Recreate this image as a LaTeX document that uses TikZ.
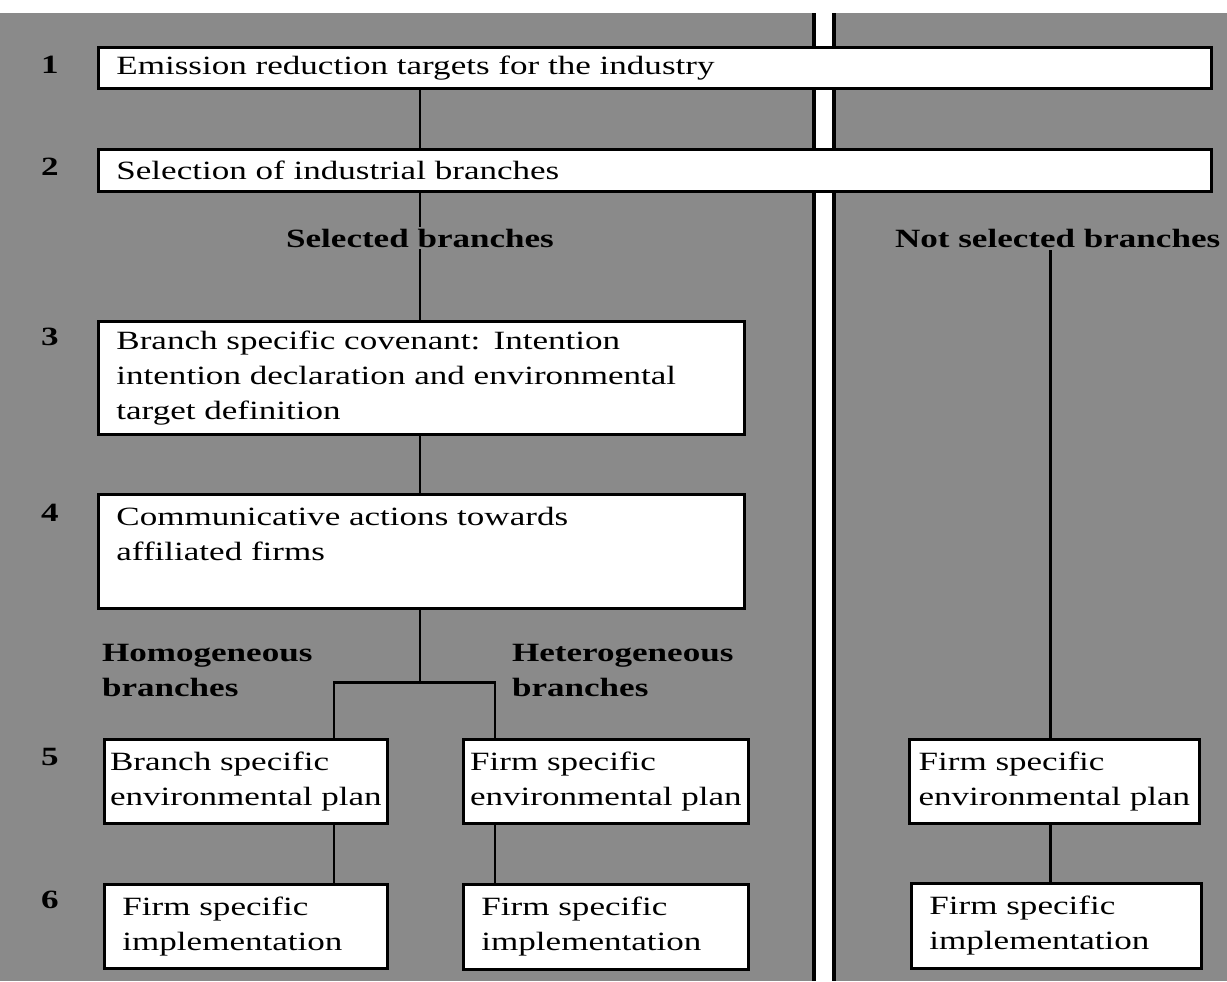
\documentclass[tikz,border=0pt]{standalone}
\usepackage{fontspec}
\setmainfont{Liberation Serif}[FakeStretch=1.33]
\usepackage{tikz}
\usetikzlibrary{positioning}
\definecolor{ScanGray}{HTML}{8A8A8A}

\begin{document}
\begin{tikzpicture}[
    x=0.02cm,y=-0.02cm,
    box/.style={draw=black,line width=1.6pt,fill=white,anchor=north west,align=left,
      inner xsep=0.36cm,inner ysep=0pt,font=\fontsize{15}{19.8}\selectfont},
    smallbox/.style={box,inner xsep=0.1cm},
    tag/.style={font=\fontsize{15}{19.8}\selectfont\bfseries,align=left,inner sep=1pt},
    link/.style={line width=1.7pt}
  ]
    \useasboundingbox (0,0) rectangle (1227,981);
    % scanned background and the double divider
    \fill[ScanGray] (0,13) rectangle (1227,981);
    \fill[white] (814,13) rectangle (834,981);
    \draw[line width=2.3pt] (814,13) -- (814,981) (834,13) -- (834,981);

    \node[box,text width=21.54cm,minimum height=0.82cm] (b1) at (97,46) {Emission reduction targets for the industry};
    \node[box,text width=21.54cm,minimum height=0.84cm] (b2) at (97,148) {Selection of industrial branches};
    \node[box,text width=12.2cm,minimum height=2.26cm] (b3) at (97,320) {Branch specific covenant: Intention\\intention declaration and environmental\\target definition};
    \node[box,text width=12.2cm,minimum height=2.28cm] (b4) at (97,493) {Communicative actions towards\\affiliated firms\\\mbox{}};

    \node[smallbox,minimum width=5.66cm,minimum height=1.68cm] (b5a) at (103,738) {Branch specific\\environmental plan};
    \node[smallbox,minimum width=5.7cm,minimum height=1.68cm] (b5b) at (462,738) {Firm specific\\environmental plan};
    \node[smallbox,minimum width=5.8cm,minimum height=1.68cm] (b5c) at (908,738) {Firm specific\\environmental plan};
    \node[box,text width=4.94cm,minimum height=1.68cm] (b6a) at (103,883) {Firm specific\\implementation};
    \node[box,text width=4.98cm,minimum height=1.7cm] (b6b) at (462,883) {Firm specific\\implementation};
    \node[box,text width=5.08cm,minimum height=1.7cm] (b6c) at (910,882) {Firm specific\\implementation};

    \foreach \y/\num in {65/1,167/2,337/3,513/4,757/5,900/6}
      \node[tag] (n\num) at (50,\y) {\num};

    \node[tag] (sel) at (420,238) {Selected branches};
    \node[tag,anchor=west] (nsel) at (893,238) {Not selected branches};
    \node[tag,anchor=north west] (homo) at (100,642) {Homogeneous\\branches};
    \node[tag,anchor=north west] (hetero) at (510,642) {Heterogeneous\\branches};

    \coordinate (fork) at (420,682);
    \coordinate (lfork) at (334,682);
    \coordinate (rfork) at (495,682);
    \coordinate (rdrop) at (1050,250);

    \draw[link] (b1.south -| sel) -- (b2.north -| sel);
    \draw[link] (b2.south -| sel) -- (sel.north);
    \draw[link] (sel.south) -- (b3.north -| sel);
    \draw[link] (b3.south -| sel) -- (b4.north -| sel);
    \draw[link] (b4.south -| fork) -- (fork);
    \draw[link] (lfork |- b5a.north) -- (lfork) -- (rfork) -- (rfork |- b5b.north);
    \draw[link] (b5a.south -| lfork) -- (b6a.north -| lfork);
    \draw[link] (b5b.south -| rfork) -- (b6b.north -| rfork);
    \draw[link] (rdrop) -- (b5c.north -| rdrop);
    \draw[link] (b5c.south -| rdrop) -- (b6c.north -| rdrop);
  \end{tikzpicture}
\end{document}
